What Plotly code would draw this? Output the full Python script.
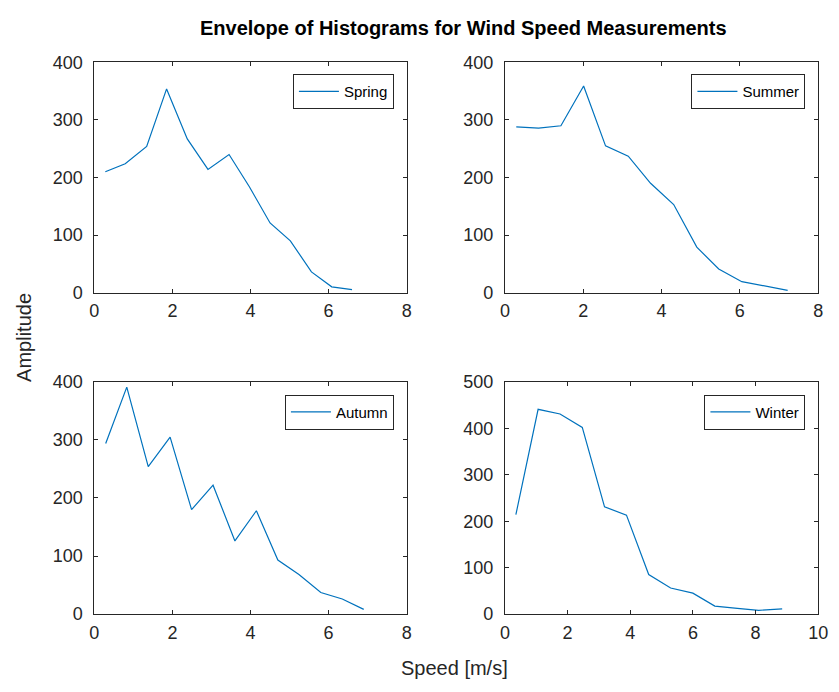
import plotly.graph_objects as go

# ---- data ----
spring_x = [0.28, 0.79, 1.34, 1.85, 2.38, 2.91, 3.45, 3.97, 4.50, 5.02, 5.56, 6.08, 6.60]
spring_y = [210, 224, 254, 354, 267, 214, 240, 184, 121, 90, 36, 10, 5]

summer_x = [0.29, 0.86, 1.43, 2.01, 2.57, 3.15, 3.72, 4.31, 4.90, 5.46, 6.05, 6.63, 7.22]
summer_y = [288, 286, 290, 359, 255, 237, 190, 153, 79, 41, 19, 12, 4]

autumn_x = [0.29, 0.83, 1.38, 1.94, 2.49, 3.04, 3.60, 4.15, 4.70, 5.24, 5.80, 6.35, 6.90]
autumn_y = [294, 391, 254, 305, 180, 222, 126, 178, 93, 68, 37, 26, 8]

winter_x = [0.35, 1.06, 1.76, 2.47, 3.18, 3.88, 4.59, 5.29, 6.00, 6.70, 7.42, 8.10, 8.85]
winter_y = [214, 441, 431, 402, 231, 213, 85, 56, 45, 17, 12, 8, 11]

season_names = ["Spring", "Summer", "Autumn", "Winter"]
x_ticks_8 = [0, 2, 4, 6, 8]
x_ticks_10 = [0, 2, 4, 6, 8, 10]

W, H = 839, 692
LINE_COLOR = "#0072BD"
AX_COLOR = "#262626"
FONT = "Liberation Sans, Arial, Helvetica, sans-serif"

def px_x(p):
    return p / W

def px_y(p):
    return 1 - p / H

fig = go.Figure()

series = [
    (spring_x, spring_y, "x", "y", "legend"),
    (summer_x, summer_y, "x2", "y2", "legend2"),
    (autumn_x, autumn_y, "x3", "y3", "legend3"),
    (winter_x, winter_y, "x4", "y4", "legend4"),
]
for (xs, ys, xa, ya, lg), name in zip(series, season_names):
    fig.add_trace(go.Scatter(x=xs, y=ys, mode="lines", name=name,
                             line=dict(color=LINE_COLOR, width=1.2),
                             xaxis=xa, yaxis=ya, legend=lg, showlegend=True))

# plot area pixel boxes: (x0, x1, y_top, y_bottom)
boxes = [
    (91, 409, 54, 291),
    (509, 828, 54, 291),
    (91, 409, 383, 622),
    (509, 828, 383, 622),
]
ranges = [
    ([0, 8], [0, 400], x_ticks_8, 100),
    ([0, 8], [0, 400], x_ticks_8, 100),
    ([0, 8], [0, 400], x_ticks_8, 100),
    ([0, 10], [0, 500], x_ticks_10, 100),
]

axis_common = dict(showline=True, linecolor=AX_COLOR, linewidth=1, mirror="ticks",
                   ticks="inside", ticklen=4, tickcolor=AX_COLOR, showgrid=False,
                   zeroline=False, tickfont=dict(family=FONT, size=18, color=AX_COLOR),
                   fixedrange=True)

layout = {}
for i, ((x0, x1, yt, yb), (xr, yr, xt, ydt)) in enumerate(zip(boxes, ranges)):
    sfx = "" if i == 0 else str(i + 1)
    layout["xaxis" + sfx] = dict(domain=[px_x(x0), px_x(x1)], range=xr, tickvals=xt,
                                 anchor="y" + sfx, ticklabelstandoff=2, **axis_common)
    layout["yaxis" + sfx] = dict(domain=[px_y(yb), px_y(yt)], range=yr, dtick=ydt,
                                 tick0=0, anchor="x" + sfx, ticklabelstandoff=7,
                                 **axis_common)

legend_pos = [(396, 66), (815, 66), (396, 396), (815, 396)]
for i, (rx, ty) in enumerate(legend_pos):
    key = "legend" if i == 0 else "legend" + str(i + 1)
    layout[key] = dict(x=px_x(rx), y=px_y(ty), xanchor="right", yanchor="top",
                       xref="paper", yref="paper",
                       bgcolor="white", bordercolor=AX_COLOR, borderwidth=1,
                       font=dict(family=FONT, size=15, color="black"),
                       itemwidth=40, tracegroupgap=0)

fig.update_layout(**layout)

fig.update_layout(
    width=W, height=H,
    margin=dict(l=0, r=0, t=0, b=0),
    paper_bgcolor="white", plot_bgcolor="white",
    font=dict(family=FONT, color=AX_COLOR),
    annotations=[
        dict(text="<b>Envelope of Histograms for Wind Speed Measurements</b>",
             x=px_x(466.5), y=px_y(19), xref="paper", yref="paper",
             xanchor="center", yanchor="middle", showarrow=False,
             font=dict(family=FONT, size=20, color="black")),
        dict(text="Amplitude", x=px_x(20), y=px_y(337), xref="paper", yref="paper",
             xanchor="center", yanchor="middle", showarrow=False, textangle=-90,
             font=dict(family=FONT, size=20, color=AX_COLOR)),
        dict(text="Speed [m/s]", x=px_x(458), y=px_y(678), xref="paper", yref="paper",
             xanchor="center", yanchor="middle", showarrow=False,
             font=dict(family=FONT, size=20, color=AX_COLOR)),
    ],
)

fig.write_html("out.html")
